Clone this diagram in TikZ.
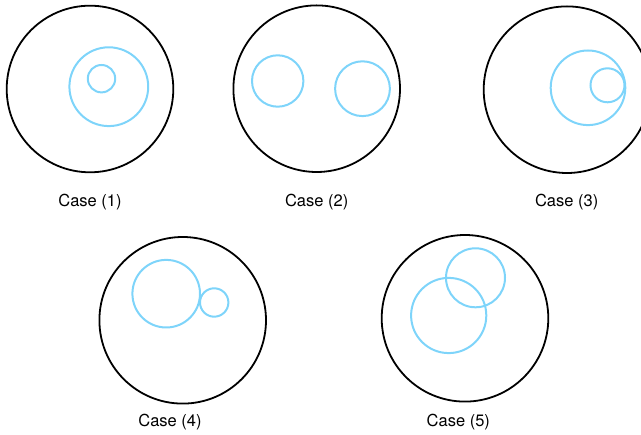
\documentclass[tikz,border=0pt]{standalone}
\usepackage{fontspec}
\setmainfont{TeX Gyre Heros}
\definecolor{lightblue}{RGB}{126,212,250}

\begin{document}
\begin{tikzpicture}[x = 1pt, y = -1pt,
		outer/.style = {line width = 1.8pt, color = black},
		inner/.style = {line width = 2pt, color = lightblue},
		caselabel/.style = {font = \fontsize{16.5}{18}\selectfont, inner sep = 0pt}]
		\clip (0,0) rectangle (641,435);
		% Case (1)
		\draw[outer] (90,89) circle (83.3);
		\draw[inner] (108.8,86.7) circle (39.4);
		\draw[inner] (101.5,78.7) circle (13.7);
		\node[caselabel] (l1) at (90,202.5){Case (1)};
		% Case (2)
		\draw[outer] (316.7,88.7) circle (83.3);
		\draw[inner] (277.7,81) circle (25.7);
		\draw[inner] (362.5,88.7) circle (27.4);
		\node[caselabel] (l2) at (316.7,202.5){Case (2)};
		% Case (3)
		\draw[outer] (567,89.7) circle (83.3);
		\draw[inner] (588,87.8) circle (37.3);
		\draw[inner] (607.5,85.3) circle (17);
		\node[caselabel] (l3) at (566.7,202.5){Case (3)};
		% Case (4)
		\draw[outer] (182.7,320.3) circle (83.3);
		\draw[inner] (166.2,293.7) circle (33.8);
		\draw[inner] (214.2,302.5) circle (14.2);
		\node[caselabel] (l4) at (170,422.5){Case (4)};
		% Case (5)
		\draw[outer] (465,318.3) circle (83.3);
		\draw[inner] (448.7,315.5) circle (37.6);
		\draw[inner] (475.5,277.8) circle (29.5);
		\node[caselabel] (l5) at (458.3,422.5){Case (5)};
\end{tikzpicture}
\end{document}
